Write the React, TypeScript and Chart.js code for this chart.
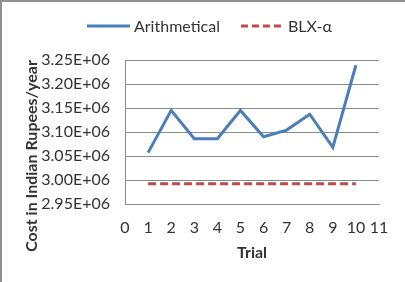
import React, { useEffect, useRef } from "react";
import { Chart, registerables } from "chart.js";

Chart.register(...registerables);

const trials = [1, 2, 3, 4, 5, 6, 7, 8, 9, 10];
const arithmetical = [3.057e6, 3.145e6, 3.086e6, 3.086e6, 3.145e6, 3.090e6, 3.104e6, 3.137e6, 3.068e6, 3.239e6];
const blxAlpha = [2.992e6, 2.992e6, 2.992e6, 2.992e6, 2.992e6, 2.992e6, 2.992e6, 2.992e6, 2.992e6, 2.992e6];
const seriesLabels = ["Arithmetical", "BLX-\u03b1"];
const xTitle = "Trial";
const yTitle = "Cost in Indian Rupees/year";

const FONT = "Lato, 'Open Sans', sans-serif";
const TEXT = "#333333";

const frameAndLegend = {
  id: "frameAndLegend",
  beforeDraw(chart: any) {
    const { ctx, width, height } = chart;
    ctx.save();
    ctx.fillStyle = "#ffffff";
    ctx.fillRect(0, 0, width, height);
    ctx.restore();
  },
  afterDraw(chart: any) {
    const { ctx, width, height } = chart;
    ctx.save();
    ctx.strokeStyle = "#8f8f8f";
    ctx.lineWidth = 2;
    ctx.beginPath();
    ctx.moveTo(1, height);
    ctx.lineTo(1, 1);
    ctx.lineTo(width, 1);
    ctx.stroke();

    // y axis title (Excel centres it lower than the plot area)
    ctx.save();
    ctx.translate(32, 156);
    ctx.rotate(-Math.PI / 2);
    ctx.font = `bold 16px ${FONT}`;
    ctx.fillStyle = TEXT;
    ctx.textAlign = "center";
    ctx.textBaseline = "middle";
    ctx.fillText(yTitle, 0, 0);
    ctx.restore();

    // legend
    const items = chart.data.datasets.map((d: any) => ({
      text: d.label,
      color: d.borderColor,
      dash: d.borderDash || [],
    }));
    const lineW = 43;
    const gapText = 4;
    const gapItem = 21;
    ctx.font = `16px ${FONT}`;
    const widths = items.map((it: any) => lineW + gapText + ctx.measureText(it.text).width);
    let x = 87;
    const y = 26;
    items.forEach((it: any, i: number) => {
      ctx.strokeStyle = it.color;
      ctx.lineWidth = 3;
      ctx.setLineDash(it.dash.length ? [7, 4] : []);
      ctx.beginPath();
      ctx.moveTo(x, y);
      ctx.lineTo(x + lineW, y);
      ctx.stroke();
      ctx.setLineDash([]);
      ctx.fillStyle = TEXT;
      ctx.textBaseline = "middle";
      ctx.textAlign = "left";
      ctx.fillText(it.text, x + lineW + gapText, y + 1);
      x += widths[i] + gapItem;
    });
    ctx.restore();
  },
};

export default function App() {
  const ref = useRef<HTMLCanvasElement | null>(null);
  useEffect(() => {
    if (!ref.current) return;
    const chart = new Chart(ref.current, {
      type: "line",
      data: {
        labels: trials,
        datasets: [
          {
            label: seriesLabels[0],
            data: trials.map((t, i) => ({ x: t, y: arithmetical[i] })),
            borderColor: "#4a7ebb",
            backgroundColor: "#4a7ebb",
            borderWidth: 3,
            pointRadius: 0,
            tension: 0,
          },
          {
            label: seriesLabels[1],
            data: trials.map((t, i) => ({ x: t, y: blxAlpha[i] })),
            borderColor: "#be4b48",
            backgroundColor: "#be4b48",
            borderWidth: 3,
            borderDash: [8, 4],
            pointRadius: 0,
            tension: 0,
          },
        ],
      },
      options: {
        animation: false,
        responsive: false,
        maintainAspectRatio: false,
        layout: { padding: { top: 60, right: 26, left: 0, bottom: 0 } },
        plugins: {
          legend: { display: false },
          tooltip: { enabled: false },
        },
        scales: {
          x: {
            type: "linear",
            min: 0,
            max: 11,
            ticks: {
              stepSize: 1,
              padding: 14,
              autoSkip: false,
              maxRotation: 0,
              minRotation: 0,
              color: TEXT,
              font: { family: FONT, size: 16 },
            },
            grid: { display: false, drawTicks: false },
            border: { display: true, color: "#8a8a8a", width: 1 },
            title: {
              display: true,
              text: xTitle,
              color: TEXT,
              font: { family: FONT, size: 16, weight: "bold" },
              padding: { top: 6, bottom: 20 },
            },
            afterFit: (s: any) => {
              s.height = 78;
            },
          },
          y: {
            type: "linear",
            min: 2.95e6,
            max: 3.25e6,
            ticks: {
              stepSize: 0.05e6,
              padding: 15,
              color: TEXT,
              font: { family: FONT, size: 16 },
              callback: (v: any) => {
                const n = Number(v);
                const exp = Math.floor(Math.log10(n));
                const mant = n / Math.pow(10, exp);
                return mant.toFixed(2) + "E+" + String(exp).padStart(2, "0");
              },
            },
            grid: { color: "#8a8a8a", lineWidth: 1, drawTicks: false },
            border: { display: true, color: "#8a8a8a", width: 1 },
            title: { display: false },
            afterFit: (s: any) => {
              s.width = 125;
            },
          },
        },
      },
      plugins: [frameAndLegend],
    });
    return () => chart.destroy();
  }, []);
  return (
    <div style={{ position: "fixed", left: 0, top: 0, width: 405, height: 282 }}>
      <canvas ref={ref} width={405} height={282} style={{ width: 405, height: 282, display: "block" }} />
    </div>
  );
}
